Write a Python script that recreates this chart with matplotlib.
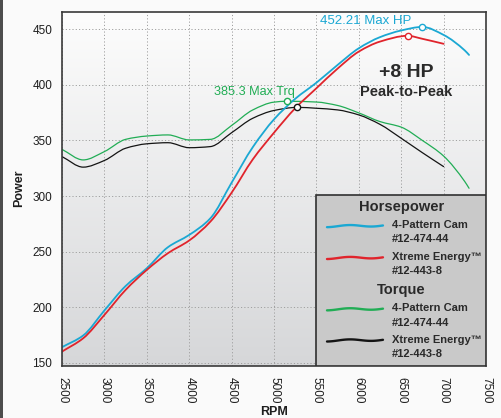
import numpy as np
import matplotlib
matplotlib.use("Agg")
import matplotlib.pyplot as plt
from matplotlib.patches import Rectangle, PathPatch
from matplotlib.path import Path
from matplotlib.colors import LinearSegmentedColormap

plt.rcParams["font.family"] = ["Liberation Sans", "DejaVu Sans"]

# ---- dyno data -------------------------------------------------------------
# 4-Pattern Cam #12-474-44
rpm_hp_4p = [2500, 2750, 3000, 3250, 3500, 3750, 4000, 4250, 4500, 4750, 5000,
             5250, 5500, 5750, 6000, 6250, 6500, 6750, 7000, 7250, 7300]
hp_4p = [164, 174.5, 197, 219, 235, 254, 265, 280, 312, 344, 369,
         387.5, 402, 418, 433, 443, 449, 452.21, 445, 431, 427]

rpm_tq_4p = [2500, 2750, 3000, 3250, 3500, 3750, 4000, 4250, 4500, 4750, 5000,
             5150, 5500, 5750, 6000, 6250, 6500, 6750, 7000, 7250, 7300]
tq_4p = [342, 332.5, 340, 351, 354, 355, 350.5, 351, 363.5, 377.5, 384.5,
         385.3, 384.6, 381.5, 374.8, 367, 362, 350, 336, 313, 307]

# Xtreme Energy #12-443-8
rpm_hp_xe = [2500, 2750, 3000, 3250, 3500, 3750, 4000, 4250, 4500, 4750, 5000,
             5250, 5500, 5750, 6000, 6250, 6575, 6750, 7000]
hp_xe = [160, 172, 193, 215.5, 233.5, 248.6, 260, 277, 303, 333, 357,
         379, 397, 414.7, 430, 439, 444.21, 441.5, 437]

rpm_tq_xe = [2500, 2750, 3000, 3250, 3500, 3750, 4000, 4250, 4500, 4750, 5000,
             5275, 5500, 5750, 6000, 6250, 6500, 6750, 7000]
tq_xe = [335.5, 326, 332, 343, 347, 348, 343.5, 344.5, 357, 370, 377,
         379.8, 379, 377.5, 373, 364.5, 352, 339, 326.5]

x_ticks = [2500, 3000, 3500, 4000, 4500, 5000, 5500, 6000, 6500, 7000, 7500]
y_ticks = [150, 200, 250, 300, 350, 400, 450]

C_BLUE = "#1ba8d3"
C_RED = "#e0242c"
C_GREEN = "#21ad55"
C_BLACK = "#141414"
C_TEXT = "#2a2a2a"

# ---- figure ----------------------------------------------------------------
fig = plt.figure(figsize=(5.01, 4.18), dpi=100, facecolor="#fafafa")
fig.patches.append(Rectangle((0, 0), 3 / 501, 1, transform=fig.transFigure,
                             facecolor="#4d4d4d", edgecolor="none"))
ax = fig.add_axes([62 / 501, 1 - 365.7 / 418, 424 / 501, 354 / 418])

xlim = (2500, 7500)
ylim = (147.3, 465.9)

# soft vertical gradient behind the plot
bg = LinearSegmentedColormap.from_list("bg", ["#fdfdfd", "#d6d7d9"])
ax.imshow(np.linspace(0, 1, 256).reshape(-1, 1), cmap=bg, aspect="auto",
          extent=[xlim[0], xlim[1], ylim[0], ylim[1]], zorder=0)
ax.set_xlim(*xlim)
ax.set_ylim(*ylim)

ax.set_xticks(x_ticks)
ax.set_yticks(y_ticks)
ax.grid(True, color="#a0a0a0", lw=0.7, linestyle=(0, (1.2, 2.2)), zorder=1)
ax.tick_params(length=0, labelsize=8.5, colors="#1e1e1e")
ax.tick_params(axis="x", labelrotation=-90, pad=8)
ax.tick_params(axis="y", pad=7)
for sp in ax.spines.values():
    sp.set_color("#3a3a3a")
    sp.set_linewidth(1.2)
    sp.set_zorder(6)


# ---- curves ----------------------------------------------------------------
def smooth_curve(xs, ys, color, lw):
    """Draw a monotone cubic (Bezier) curve passing through every data point."""
    x = np.asarray(xs, float)
    y = np.asarray(ys, float)
    h = np.diff(x)
    d = np.diff(y) / h
    m = np.empty_like(y)
    m[0], m[-1] = d[0], d[-1]
    for i in range(1, len(y) - 1):
        if d[i - 1] * d[i] <= 0:
            m[i] = 0.0
        else:
            w1 = 2 * h[i] + h[i - 1]
            w2 = h[i] + 2 * h[i - 1]
            m[i] = (w1 + w2) / (w1 / d[i - 1] + w2 / d[i])
    verts = [(x[0], y[0])]
    codes = [Path.MOVETO]
    for i in range(len(x) - 1):
        verts += [(x[i] + h[i] / 3, y[i] + m[i] * h[i] / 3),
                  (x[i + 1] - h[i] / 3, y[i + 1] - m[i + 1] * h[i] / 3),
                  (x[i + 1], y[i + 1])]
        codes += [Path.CURVE4] * 3
    ax.add_patch(PathPatch(Path(verts, codes), facecolor="none", edgecolor=color,
                           lw=lw, zorder=3, capstyle="round", joinstyle="round"))


smooth_curve(rpm_tq_4p, tq_4p, C_GREEN, 0.9)
smooth_curve(rpm_tq_xe, tq_xe, C_BLACK, 0.9)
smooth_curve(rpm_hp_4p, hp_4p, C_BLUE, 1.3)
smooth_curve(rpm_hp_xe, hp_xe, C_RED, 1.3)


# peak markers
def mark_peak(xs, ys, color):
    i = int(np.argmax(ys))
    ax.plot(xs[i], ys[i], "o", ms=4.5, mfc="white", mec=color, mew=1.0, zorder=4)
    return xs[i], ys[i]


mark_peak(rpm_hp_4p, hp_4p, C_BLUE)
mark_peak(rpm_hp_xe, hp_xe, C_RED)
tq_pk_x, tq_pk_y = mark_peak(rpm_tq_4p, tq_4p, C_GREEN)
mark_peak(rpm_tq_xe, tq_xe, C_BLACK)

hp_peak = max(hp_4p)
ax.text(6085, 457.8, f"{hp_peak:.2f} Max HP", color=C_BLUE, fontsize=9.5,
        ha="center", va="center", zorder=5)
ax.text(4764, 393.9, f"{tq_pk_y:.1f} Max Trq", color=C_GREEN, fontsize=9.2,
        ha="center", va="center", zorder=5)
gain = round(max(hp_4p) - max(hp_xe))
ax.text(6557, 410.8, f"+{gain} HP", color=C_TEXT, fontsize=14, fontweight="bold",
        ha="center", va="center", zorder=5)
ax.text(6557, 394.0, "Peak-to-Peak", color=C_TEXT, fontsize=10.5,
        fontweight="bold", ha="center", va="center", zorder=5)

# ---- legend panel ----------------------------------------------------------
ax.add_patch(Rectangle((0.599, 0), 0.401, 0.482, transform=ax.transAxes,
                       facecolor="#c9c9c9", edgecolor="#303030", lw=1.2, zorder=7))


def swatch(y_frac, color):
    t = np.linspace(0, 1, 60)
    xs = 0.625 + t * (0.757 - 0.625)
    off = 0.9 * np.sin(2.5 * np.pi * t - 0.5 * np.pi) + 0.8 * t - 0.4
    ax.plot(xs, y_frac + off / 354, color=color, lw=1.7, transform=ax.transAxes,
            zorder=8, solid_capstyle="round", clip_on=False)


def entry(y_frac, color, name, part):
    swatch(y_frac, color)
    ax.text(0.778, y_frac + 0.002, name, transform=ax.transAxes, fontsize=8,
            fontweight="bold", color=C_TEXT, va="center", ha="left", zorder=8)
    ax.text(0.778, y_frac - 0.038, part, transform=ax.transAxes, fontsize=8,
            fontweight="bold", color=C_TEXT, va="center", ha="left", zorder=8)


ax.text(0.800, 0.449, "Horsepower", transform=ax.transAxes, fontsize=10.5,
        fontweight="bold", color=C_TEXT, ha="center", va="center", zorder=8)
entry(0.395, C_BLUE, "4-Pattern Cam", "#12-474-44")
entry(0.305, C_RED, "Xtreme Energy\u2122", "#12-443-8")
ax.text(0.799, 0.214, "Torque", transform=ax.transAxes, fontsize=10.5,
        fontweight="bold", color=C_TEXT, ha="center", va="center", zorder=8)
entry(0.160, C_GREEN, "4-Pattern Cam", "#12-474-44")
entry(0.072, C_BLACK, "Xtreme Energy\u2122", "#12-443-8")

# ---- axis titles -----------------------------------------------------------
ax.set_xlabel("RPM", fontsize=9, fontweight="bold", color="#1e1e1e")
ax.xaxis.set_label_coords(0.5, -0.113)
ax.set_ylabel("Power", fontsize=9, fontweight="bold", color="#1e1e1e")
ax.yaxis.set_label_coords(-0.087, 0.5)

fig.savefig("out.png", dpi=100, facecolor=fig.get_facecolor())
